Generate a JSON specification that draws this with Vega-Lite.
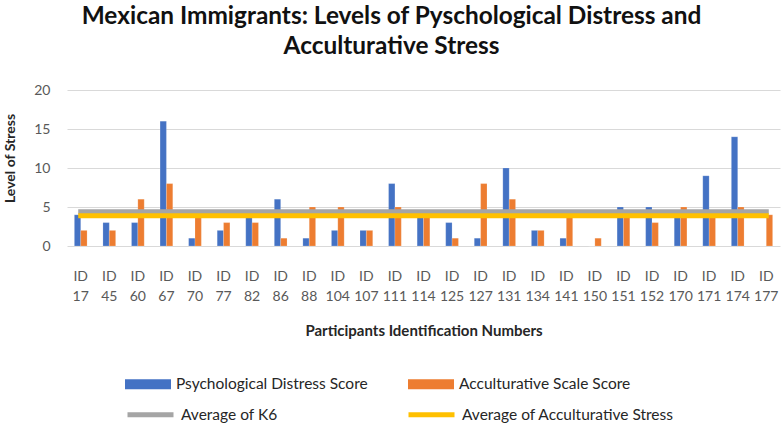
{
  "$schema": "https://vega.github.io/schema/vega-lite/v6.json",
  "width": 713,
  "height": 156,
  "autosize": {"type": "none"},
  "padding": {"left": 67, "top": 90, "right": 2, "bottom": 178},
  "background": "white",
  "title": {
    "text": ["Mexican Immigrants: Levels of Pyschological Distress and", "Acculturative Stress"],
    "font": "Lato",
    "fontSize": 24.4,
    "fontWeight": "bold",
    "color": "#111111",
    "anchor": "middle",
    "dx": -32,
    "lineHeight": 30,
    "offset": 24
  },
  "config": {
    "view": {"stroke": null},
    "axis": {"labelFont": "Lato", "titleFont": "Lato", "labelColor": "#595959", "titleColor": "#262626"},
    "legend": {"labelFont": "Lato", "labelColor": "#262626"}
  },
  "datasets": {
    "bars": [
      {"id": "ID 17", "series": "Psychological Distress Score", "value": 4},
      {"id": "ID 17", "series": "Acculturative Scale Score", "value": 2},
      {"id": "ID 45", "series": "Psychological Distress Score", "value": 3},
      {"id": "ID 45", "series": "Acculturative Scale Score", "value": 2},
      {"id": "ID 60", "series": "Psychological Distress Score", "value": 3},
      {"id": "ID 60", "series": "Acculturative Scale Score", "value": 6},
      {"id": "ID 67", "series": "Psychological Distress Score", "value": 16},
      {"id": "ID 67", "series": "Acculturative Scale Score", "value": 8},
      {"id": "ID 70", "series": "Psychological Distress Score", "value": 1},
      {"id": "ID 70", "series": "Acculturative Scale Score", "value": 4},
      {"id": "ID 77", "series": "Psychological Distress Score", "value": 2},
      {"id": "ID 77", "series": "Acculturative Scale Score", "value": 3},
      {"id": "ID 82", "series": "Psychological Distress Score", "value": 4},
      {"id": "ID 82", "series": "Acculturative Scale Score", "value": 3},
      {"id": "ID 86", "series": "Psychological Distress Score", "value": 6},
      {"id": "ID 86", "series": "Acculturative Scale Score", "value": 1},
      {"id": "ID 88", "series": "Psychological Distress Score", "value": 1},
      {"id": "ID 88", "series": "Acculturative Scale Score", "value": 5},
      {"id": "ID 104", "series": "Psychological Distress Score", "value": 2},
      {"id": "ID 104", "series": "Acculturative Scale Score", "value": 5},
      {"id": "ID 107", "series": "Psychological Distress Score", "value": 2},
      {"id": "ID 107", "series": "Acculturative Scale Score", "value": 2},
      {"id": "ID 111", "series": "Psychological Distress Score", "value": 8},
      {"id": "ID 111", "series": "Acculturative Scale Score", "value": 5},
      {"id": "ID 114", "series": "Psychological Distress Score", "value": 4},
      {"id": "ID 114", "series": "Acculturative Scale Score", "value": 4},
      {"id": "ID 125", "series": "Psychological Distress Score", "value": 3},
      {"id": "ID 125", "series": "Acculturative Scale Score", "value": 1},
      {"id": "ID 127", "series": "Psychological Distress Score", "value": 1},
      {"id": "ID 127", "series": "Acculturative Scale Score", "value": 8},
      {"id": "ID 131", "series": "Psychological Distress Score", "value": 10},
      {"id": "ID 131", "series": "Acculturative Scale Score", "value": 6},
      {"id": "ID 134", "series": "Psychological Distress Score", "value": 2},
      {"id": "ID 134", "series": "Acculturative Scale Score", "value": 2},
      {"id": "ID 141", "series": "Psychological Distress Score", "value": 1},
      {"id": "ID 141", "series": "Acculturative Scale Score", "value": 4},
      {"id": "ID 150", "series": "Psychological Distress Score", "value": 0},
      {"id": "ID 150", "series": "Acculturative Scale Score", "value": 1},
      {"id": "ID 151", "series": "Psychological Distress Score", "value": 5},
      {"id": "ID 151", "series": "Acculturative Scale Score", "value": 4},
      {"id": "ID 152", "series": "Psychological Distress Score", "value": 5},
      {"id": "ID 152", "series": "Acculturative Scale Score", "value": 3},
      {"id": "ID 170", "series": "Psychological Distress Score", "value": 4},
      {"id": "ID 170", "series": "Acculturative Scale Score", "value": 5},
      {"id": "ID 171", "series": "Psychological Distress Score", "value": 9},
      {"id": "ID 171", "series": "Acculturative Scale Score", "value": 4},
      {"id": "ID 174", "series": "Psychological Distress Score", "value": 14},
      {"id": "ID 174", "series": "Acculturative Scale Score", "value": 5},
      {"id": "ID 177", "series": "Psychological Distress Score", "value": 0},
      {"id": "ID 177", "series": "Acculturative Scale Score", "value": 4}
    ],
    "avgs": [
      {"id": "ID 17", "series": "Average of K6", "value": 4.4},
      {"id": "ID 177", "series": "Average of K6", "value": 4.4},
      {"id": "ID 17", "series": "Average of Acculturative Stress", "value": 3.88},
      {"id": "ID 177", "series": "Average of Acculturative Stress", "value": 3.88}
    ]
  },
  "layer": [
    {
      "data": {"name": "bars"},
      "mark": {"type": "bar", "stroke": "#ffffff", "strokeOpacity": 0.35, "strokeWidth": 0.5},
      "encoding": {
        "x": {
          "field": "id",
          "type": "nominal",
          "sort": null,
          "scale": {
            "domain": ["ID 17", "ID 45", "ID 60", "ID 67", "ID 70", "ID 77", "ID 82", "ID 86", "ID 88", "ID 104", "ID 107", "ID 111", "ID 114", "ID 125", "ID 127", "ID 131", "ID 134", "ID 141", "ID 150", "ID 151", "ID 152", "ID 170", "ID 171", "ID 174", "ID 177"],
            "paddingInner": 0.555,
            "paddingOuter": 0.258
          },
          "axis": {
            "labelExpr": "split(datum.label, ' ')",
            "labelAngle": 0,
            "labelFontSize": 14,
            "labelLineHeight": 20,
            "labelPadding": 23,
            "labelOverlap": false,
            "ticks": false,
            "domain": false,
            "grid": false,
            "title": "Participants Identification Numbers",
            "titleFontSize": 15,
            "titleFontWeight": "bold",
            "titlePadding": 20
          }
        },
        "xOffset": {
          "field": "series",
          "sort": ["Psychological Distress Score", "Acculturative Scale Score"]
        },
        "y": {
          "field": "value",
          "type": "quantitative",
          "scale": {"domain": [0, 20], "nice": false},
          "axis": {
            "values": [0, 5, 10, 15, 20],
            "tickCount": 5,
            "labelFontSize": 14,
            "labelPadding": 17,
            "labelOverlap": false,
            "ticks": false,
            "domain": false,
            "gridColor": "#D9D9D9",
            "gridWidth": 1,
            "title": "Level of Stress",
            "titleFontSize": 14,
            "titleFontWeight": "bold",
            "titlePadding": 16,
            "titleY": 68
          }
        },
        "color": {
          "field": "series",
          "type": "nominal",
          "scale": {
            "domain": ["Psychological Distress Score", "Acculturative Scale Score"],
            "range": ["#4472C4", "#ED7D31"]
          },
          "legend": {
            "title": null,
            "orient": "none",
            "legendX": 58,
            "legendY": 271,
            "direction": "horizontal",
            "columns": 2,
            "columnPadding": 40,
            "symbolType": "M-1,-0.217H1V0.217H-1Z",
            "symbolSize": 2116,
            "symbolStrokeWidth": 0,
            "labelFontSize": 15.5,
            "labelLimit": 400,
            "labelOffset": 5,
            "padding": 0
          }
        }
      }
    },
    {
      "data": {"name": "avgs"},
      "mark": {"type": "line", "strokeWidth": 5, "strokeCap": "square"},
      "encoding": {
        "x": {"field": "id", "type": "nominal", "sort": null},
        "y": {
          "field": "value",
          "type": "quantitative",
          "axis": {
            "values": [0, 5, 10, 15, 20],
            "tickCount": 5,
            "labelFontSize": 14,
            "labelPadding": 17,
            "labelOverlap": false,
            "ticks": false,
            "domain": false,
            "gridColor": "#D9D9D9",
            "gridWidth": 1,
            "title": "Level of Stress",
            "titleFontSize": 14,
            "titleFontWeight": "bold",
            "titlePadding": 16,
            "titleY": 68
          }
        },
        "stroke": {
          "field": "series",
          "type": "nominal",
          "scale": {
            "domain": ["Average of K6", "Average of Acculturative Stress"],
            "range": ["#A5A5A5", "#FFC000"]
          },
          "legend": {
            "title": null,
            "orient": "none",
            "legendX": 58,
            "legendY": 299,
            "direction": "horizontal",
            "columns": 2,
            "columnPadding": 120,
            "symbolType": "stroke",
            "symbolSize": 2116,
            "symbolStrokeWidth": 5,
            "labelFontSize": 15.5,
            "labelLimit": 400,
            "labelOffset": 5,
            "padding": 0
          }
        }
      }
    }
  ]
}
